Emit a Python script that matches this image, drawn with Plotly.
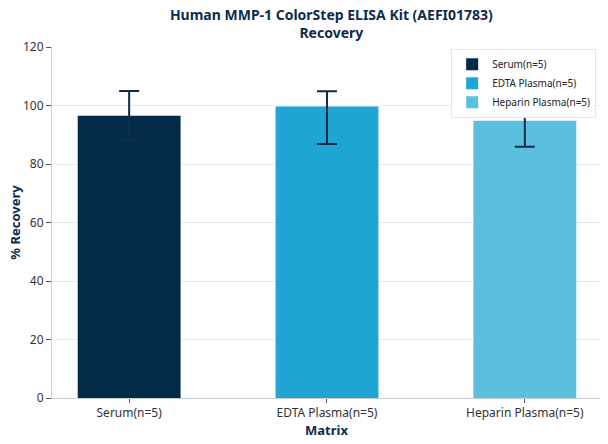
import plotly.graph_objects as go

categories = ['Serum(n=5)', 'EDTA Plasma(n=5)', 'Heparin Plasma(n=5)']
recovery = [96.5, 99.7, 94.8]
err_plus = [8.5, 5.2, 8.6]
err_minus = [8.5, 12.9, 8.9]
colors = ['#022b4a', '#1fa5d3', '#5bbfe0']

fig = go.Figure()

for i, cat in enumerate(categories):
    fig.add_trace(go.Bar(
        x=[cat],
        y=[recovery[i]],
        name=cat,
        marker=dict(color=colors[i], line=dict(width=0)),
        width=0.52,
        error_y=dict(
            type='data', symmetric=False,
            array=[err_plus[i]], arrayminus=[err_minus[i]],
            color='#0d2c4a', thickness=2, width=10,
        ),
    ))

# linea de referencia al 100 %
fig.add_hline(y=100, line=dict(color='#7cc3d6', width=1, dash='dash'), layer='below')

# titulos de los ejes como anotaciones para colocarlos a mano
fig.add_annotation(text='<b>% Recovery</b>', xref='paper', yref='paper',
                   x=-0.069, y=0.5, xanchor='center', yanchor='middle',
                   textangle=-90, showarrow=False,
                   font=dict(size=13, color='#0d2c4a'))
fig.add_annotation(text='<b>Matrix</b>', xref='paper', yref='paper',
                   x=0.5, y=-0.09, xanchor='center', yanchor='middle',
                   showarrow=False,
                   font=dict(size=13, color='#0d2c4a'))

fig.update_layout(
    width=608, height=444,
    margin=dict(l=52, r=8, t=47, b=46, autoexpand=False),
    paper_bgcolor='white', plot_bgcolor='white',
    font=dict(family='Noto Sans', size=12, color='#333333'),
    title=dict(
        text='<b>Human MMP-1 ColorStep ELISA Kit (AEFI01783)<br>Recovery</b>',
        x=0.545, xanchor='center',
        yref='paper', y=1, yanchor='bottom', pad=dict(b=27),
        font=dict(size=14, color='#0d2c4a'),
    ),
    barmode='overlay',
    showlegend=True,
    legend=dict(
        x=0.993, xanchor='right', y=0.995, yanchor='top',
        bgcolor='white', bordercolor='#e3e6ea', borderwidth=1,
        font=dict(size=10, color='#222222'),
        tracegroupgap=0,
    ),
    xaxis=dict(
        automargin=False,
        range=[-0.39, 2.38],
        showline=True, linecolor='#c8ced4', linewidth=1,
        ticks='outside', ticklen=4, tickcolor='#555555',
        showgrid=False,
        tickfont=dict(size=12, color='#333333'),
    ),
    yaxis=dict(
        automargin=False,
        range=[0, 120], dtick=20,
        showline=True, linecolor='#c8ced4', linewidth=1,
        ticks='outside', ticklen=5, tickcolor='#555555',
        gridcolor='#e6eaee', gridwidth=1,
        zeroline=False,
        tickfont=dict(size=12, color='#333333'),
    ),
)

fig.write_html('out.html', config={'displayModeBar': False},
               post_script="document.body.style.margin='0';")
